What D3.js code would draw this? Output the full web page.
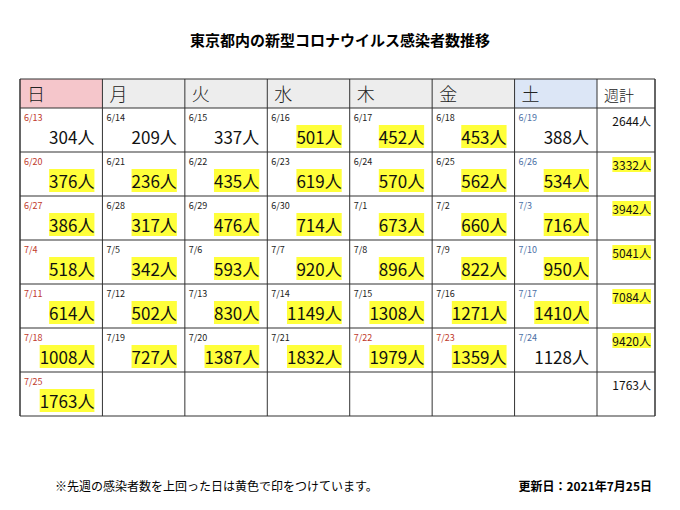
<!DOCTYPE html><html><head><meta charset="utf-8"><script src="https://d3js.org/d3.v7.min.js"></script>
<style>body{margin:0;background:#fff}</style></head><body><script>
const days=["日","月","火","水","木","金","土","週計"];
const dates=[["6/13","6/14","6/15","6/16","6/17","6/18","6/19"],["6/20","6/21","6/22","6/23","6/24","6/25","6/26"],["6/27","6/28","6/29","6/30","7/1","7/2","7/3"],["7/4","7/5","7/6","7/7","7/8","7/9","7/10"],["7/11","7/12","7/13","7/14","7/15","7/16","7/17"],["7/18","7/19","7/20","7/21","7/22","7/23","7/24"],["7/25"]];
const values=[[304,209,337,501,452,453,388],[376,236,435,619,570,562,534],[386,317,476,714,673,660,716],[518,342,593,920,896,822,950],[614,502,830,1149,1308,1271,1410],[1008,727,1387,1832,1979,1359,1128],[1763]];
const highlight=[[0,0,0,1,1,1,0],[1,1,1,1,1,1,1],[1,1,1,1,1,1,1],[1,1,1,1,1,1,1],[1,1,1,1,1,1,1],[1,1,1,1,1,1,0],[1]];
const holidays=["7/22","7/23"];
const weekly=[2644,3332,3942,5041,7084,9420,1763];
const weeklyHL=[0,1,1,1,1,1,0];
const W=680,H=510;
const svg=d3.select("body").append("svg").attr("width",W).attr("height",H).style("font-family","'Noto Sans CJK JP',sans-serif");
svg.append("text").attr("x",340).attr("y",46).attr("text-anchor","middle").attr("font-size",15).attr("font-weight","bold").text("東京都内の新型コロナウイルス感染者数推移");
const cx=d3.scaleLinear().domain([0,7,8]).range([20,597,655]);
const ry=d3.scaleLinear().domain([0,7]).range([108,416]);
const hdrFill=i=>i==0?"#f5c6cb":i==6?"#dce6f6":i==7?"#fff":"#ededed";
days.forEach((d,i)=>{
 svg.append("rect").attr("x",cx(i)).attr("y",79).attr("width",cx(i+1)-cx(i)).attr("height",108-79).attr("fill",hdrFill(i));
 svg.append("text").attr("x",cx(i)+7).attr("y",101).attr("font-size",i==7?15:18).attr("font-weight",300).attr("fill","#222").text(d);
});
const hl="#ffff3a";
function valText(x,y,txt,size,on,anchor){
 const g=svg.append("g");
 const t=g.append("text").attr("x",x).attr("y",y).attr("font-size",size).attr("text-anchor",anchor).attr("fill","#111").text(txt);
 if(on){const b=t.node().getBBox();g.insert("rect","text").attr("x",b.x).attr("y",b.y+1).attr("width",b.width).attr("height",b.height-2).attr("fill",hl);}
}
for(let r=0;r<7;r++){
 dates[r].forEach((d,c)=>{
  const col=c==0||holidays.includes(d)?"#c0392b":c==6?"#4a6fa5":"#222";
  svg.append("text").attr("x",cx(c)+4).attr("y",ry(r)+13).attr("font-size",9).attr("fill",col).text(d);
  valText(cx(c+1)-8,ry(r)+36,values[r][c]+"人",17,highlight[r][c],"end");
 });
 valText(cx(8)-4,ry(r)+18,weekly[r]+"人",12,weeklyHL[r],"end");
}
const g=svg.append("g").attr("stroke","#333").attr("fill","none");
d3.range(9).forEach(i=>g.append("line").attr("x1",cx(i)).attr("x2",cx(i)).attr("y1",79).attr("y2",416).attr("stroke-width",i==0||i==8?1.5:1));
[79,...d3.range(8).map(ry)].forEach((y,i)=>g.append("line").attr("x1",20).attr("x2",655).attr("y1",y).attr("y2",y).attr("stroke-width",1.2));
svg.append("text").attr("x",55).attr("y",491).attr("font-size",12).text("※先週の感染者数を上回った日は黄色で印をつけています。");
svg.append("text").attr("x",652).attr("y",491).attr("font-size",12).attr("font-weight","bold").attr("text-anchor","end").text("更新日：2021年7月25日");
</script></body></html>
